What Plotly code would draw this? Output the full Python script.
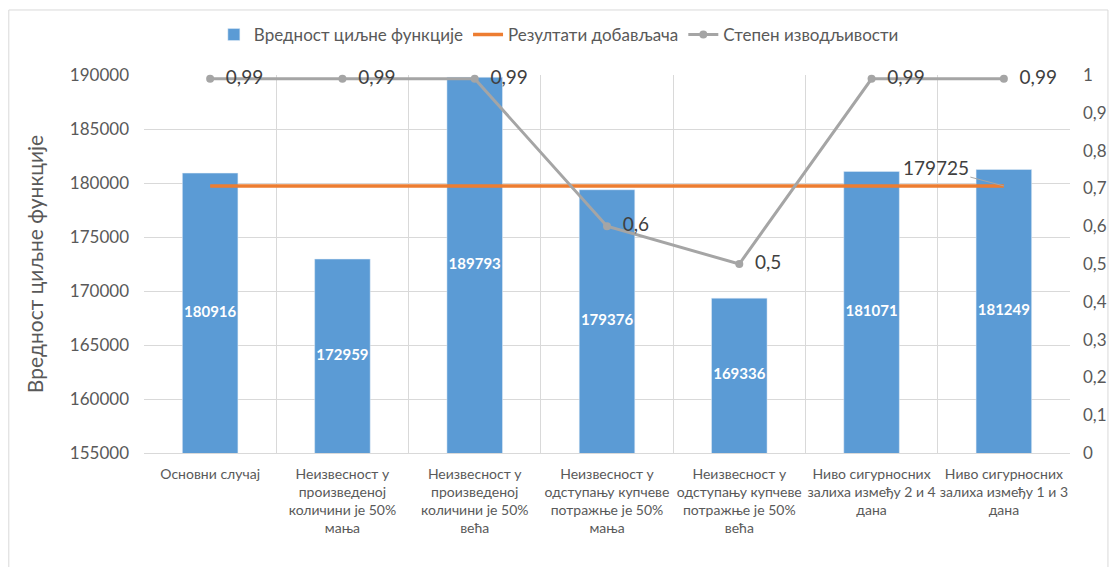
import plotly.graph_objects as go

# Scenario names (x categories)
categories = [
    "Основни случај",
    "Неизвесност у<br>произведеној<br>количини је 50%<br>мања",
    "Неизвесност у<br>произведеној<br>количини је 50%<br>већа",
    "Неизвесност у<br>одступању купчеве<br>потражње је 50%<br>мања",
    "Неизвесност у<br>одступању купчеве<br>потражње је 50%<br>већа",
    "Ниво сигурносних<br>залиха између 2 и 4<br>дана",
    "Ниво сигурносних<br>залиха између 1 и 3<br>дана",
]
objective_values = [180916, 172959, 189793, 179376, 169336, 181071, 181249]
supplier_results = [179725, 179725, 179725, 179725, 179725, 179725, 179725]
feasibility = [0.99, 0.99, 0.99, 0.6, 0.5, 0.99, 0.99]

left_ticks = [155000, 160000, 165000, 170000, 175000, 180000, 185000, 190000]
right_ticks = [0, 0.1, 0.2, 0.3, 0.4, 0.5, 0.6, 0.7, 0.8, 0.9, 1]
y_min, y_max = left_ticks[0], left_ticks[-1]

FONT = "Lato, Open Sans, sans-serif"
GREY_TXT = "#595959"
GRID = "#D9D9D9"

fig = go.Figure()

fig.add_trace(go.Bar(
    x=categories, y=objective_values, name="Вредност циљне функције",
    marker=dict(color="#5B9BD5"),
))

# Bar value labels, centred on the visible part of each bar
fig.add_trace(go.Scatter(
    x=categories, y=[(y_min + v) / 2 for v in objective_values],
    mode="text", text=[f"<b>{v}</b>" for v in objective_values],
    textposition="middle center",
    textfont=dict(color="white", size=15, family=FONT),
    showlegend=False, hoverinfo="skip",
))

fig.add_trace(go.Scatter(
    x=categories, y=supplier_results, name="Резултати добављача",
    mode="lines", line=dict(color="#ED7D31", width=3.5),
))

fig.add_trace(go.Scatter(
    x=categories, y=feasibility, name="Степен изводљивости",
    mode="lines+markers+text", yaxis="y2",
    line=dict(color="#A5A5A5", width=3),
    marker=dict(color="#A5A5A5", size=8),
    text=["\u00a0\u00a0" + str(v).replace(".", ",") for v in feasibility],
    textposition="middle right",
    textfont=dict(color="#404040", size=19, family=FONT),
    cliponaxis=False,
))

# Data label for the last point of the supplier line, with a leader line
fig.add_annotation(
    x=categories[-1], y=supplier_results[-1],
    text=str(supplier_results[-1]),
    showarrow=True, arrowhead=0, arrowwidth=1, arrowcolor="#A6A6A6",
    ax=-68, ay=-18,
    font=dict(size=19, color="#404040", family=FONT),
)

# Outer chart border
fig.add_shape(
    type="rect", xref="paper", yref="paper",
    x0=-0.146, x1=1.041, y0=-0.4, y1=1.172,
    line=dict(color=GRID, width=1), fillcolor="rgba(0,0,0,0)", layer="below",
)

fig.update_layout(
    width=1110, height=567,
    margin=dict(l=144, r=40, t=75, b=114, autoexpand=False),
    paper_bgcolor="white", plot_bgcolor="white",
    separators=", ",
    font=dict(family=FONT, color=GREY_TXT),
    bargap=0.58,
    showlegend=True,
    legend=dict(
        orientation="h", x=0.448, xanchor="center",
        yref="container", y=1 - 35 / 567, yanchor="middle",
        font=dict(size=17, color=GREY_TXT),
        traceorder="normal",
    ),
    xaxis=dict(
        type="category", tickson="boundaries",
        showgrid=True, gridcolor=GRID, gridwidth=1,
        showline=True, linecolor=GRID, ticks="",
        tickfont=dict(size=14, color=GREY_TXT, family=FONT),
        tickangle=0, automargin=False, ticklabelstandoff=8,
    ),
    yaxis=dict(
        range=[y_min, y_max], tickvals=left_ticks, tickformat="d",
        showgrid=True, gridcolor=GRID, zeroline=False,
        showline=False, ticks="", automargin=False, ticklabelstandoff=14,
        tickfont=dict(size=17, color=GREY_TXT, family=FONT),
        title=dict(text="Вредност циљне функције",
                   font=dict(size=21, color=GREY_TXT, family=FONT), standoff=20),
    ),
    yaxis2=dict(
        range=[0, 1], tickvals=right_ticks, overlaying="y", side="right",
        showgrid=False, zeroline=False, ticks="", automargin=False,
        ticklabelstandoff=12,
        tickfont=dict(size=17, color=GREY_TXT, family=FONT),
    ),
)

fig.write_html("out.html")
